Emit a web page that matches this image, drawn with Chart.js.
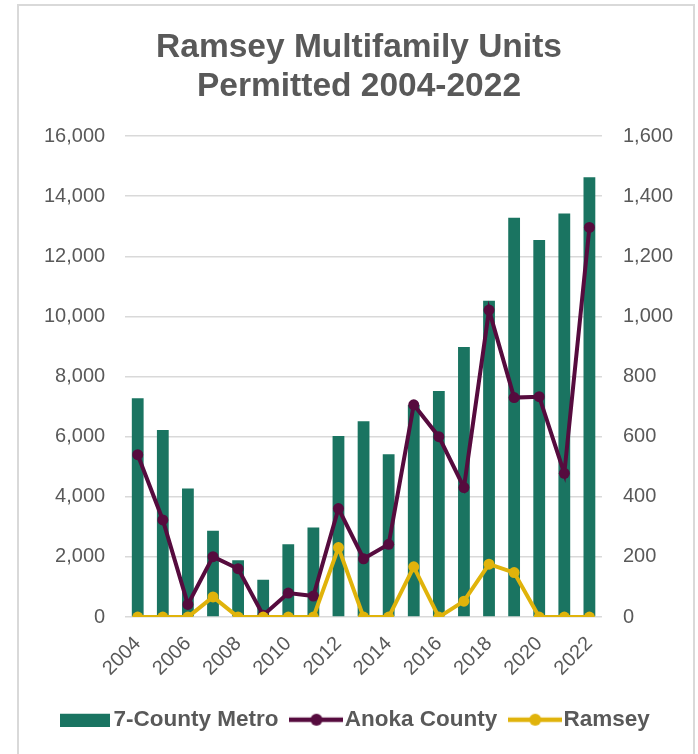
<!DOCTYPE html>
<html>
<head>
<meta charset="utf-8">
<script src="https://cdn.jsdelivr.net/npm/chart.js@4"></script>
<style>
  html, body { margin: 0; padding: 0; background: #fff; }
  #wrap { position: relative; width: 698px; height: 754px; overflow: hidden; }
  #frame { position: absolute; left: 17px; top: 4px; width: 674px; height: 800px; border: 2px solid #d9d9d9; }
  canvas { position: absolute; left: 0; top: 0; }
</style>
</head>
<body>
<div id="wrap">
  <div id="frame"></div>
  <canvas id="permitChart" width="698" height="754"></canvas>
</div>
<script>
const years = ['2004', '2005', '2006', '2007', '2008', '2009', '2010', '2011', '2012', '2013',
  '2014', '2015', '2016', '2017', '2018', '2019', '2020', '2021', '2022'];
const metroUnits = [7280, 6220, 4280, 2870, 1890, 1240, 2420, 2980, 6020, 6510,
  5420, 7050, 7520, 8980, 10520, 13280, 12540, 13420, 14630];
const anokaUnits = [540, 323, 42, 201, 161, 6, 80, 70, 361, 194,
  242, 706, 600, 431, 1021, 730, 733, 478, 1296];
const ramseyUnits = [0, 0, 0, 67, 0, 0, 0, 0, 231, 0,
  0, 167, 0, 53, 176, 148, 0, 0, 0];

const green = '#1a7461';
const purple = '#560b3e';
const gold = '#e0b30b';
const grey = '#595959';
const fontFamily = 'Liberation Sans, Arial, sans-serif';

function swatch(color, isLine) {
  const c = document.createElement('canvas');
  c.width = isLine ? 54 : 50;
  c.height = 14;
  const g = c.getContext('2d');
  if (isLine) {
    g.strokeStyle = color;
    g.lineWidth = 4.5;
    g.beginPath();
    g.moveTo(0, 7);
    g.lineTo(54, 7);
    g.stroke();
    g.fillStyle = color;
    g.beginPath();
    g.arc(27, 7, 6, 0, Math.PI * 2);
    g.fill();
  } else {
    g.fillStyle = color;
    g.fillRect(0, 1, 50, 13);
  }
  return c;
}

document.addEventListener('DOMContentLoaded', () => {
  const canvas = document.getElementById('permitChart');
  const icons = [swatch(green, false), swatch(purple, true), swatch(gold, true)];

  new Chart(canvas, {
    data: {
      labels: years,
      datasets: [{
        type: 'bar',
        label: '7-County Metro',
        data: metroUnits,
        backgroundColor: green,
        yAxisID: 'y',
        barPercentage: 0.47,
        categoryPercentage: 1,
        order: 3
      }, {
        type: 'line',
        label: 'Anoka County',
        data: anokaUnits,
        borderColor: purple,
        backgroundColor: purple,
        borderWidth: 4,
        pointRadius: 5.5,
        pointBorderWidth: 0,
        tension: 0,
        yAxisID: 'y1',
        order: 2
      }, {
        type: 'line',
        label: 'Ramsey',
        data: ramseyUnits,
        borderColor: gold,
        backgroundColor: gold,
        borderWidth: 4,
        pointRadius: 5.5,
        pointBorderWidth: 0,
        tension: 0,
        yAxisID: 'y1',
        order: 1
      }]
    },
    options: {
      responsive: false,
      animation: false,
      layout: { padding: { left: 24, right: 4, top: 20, bottom: 13 } },
      plugins: {
        title: {
          display: true,
          text: ['Ramsey Multifamily Units', 'Permitted 2004-2022'],
          color: grey,
          font: { family: fontFamily, size: 33.5, weight: 'bold', lineHeight: 1.165 },
          padding: { top: 8, bottom: 30 }
        },
        legend: {
          position: 'bottom',
          labels: {
            color: grey,
            font: { family: fontFamily, size: 22.5, weight: 'bold' },
            usePointStyle: true,
            pointStyleWidth: 34,
            boxHeight: 14,
            padding: 21,
            generateLabels: (chart) => chart.data.datasets.map((ds, i) => ({
              text: ds.label,
              pointStyle: icons[i],
              fontColor: grey,
              lineWidth: 0,
              strokeStyle: 'transparent',
              fillStyle: 'transparent',
              datasetIndex: i,
              hidden: false
            }))
          }
        },
        tooltip: { enabled: false }
      },
      scales: {
        x: {
          grid: { display: false },
          border: { display: false },
          ticks: {
            autoSkip: false,
            minRotation: 45,
            maxRotation: 45,
            padding: 7,
            color: grey,
            font: { family: fontFamily, size: 20 },
            callback: (val, i) => (i % 2 === 0 ? years[i] : null)
          }
        },
        y: {
          position: 'left',
          min: 0,
          max: 16000,
          ticks: {
            stepSize: 2000,
            padding: 20,
            color: grey,
            font: { family: fontFamily, size: 20 },
            callback: (v) => v.toLocaleString('en-US')
          },
          grid: { color: '#d9d9d9', lineWidth: 1.5, drawTicks: false },
          border: { display: false }
        },
        y1: {
          position: 'right',
          min: 0,
          max: 1600,
          ticks: {
            stepSize: 200,
            padding: 21,
            color: grey,
            font: { family: fontFamily, size: 20 },
            callback: (v) => v.toLocaleString('en-US')
          },
          grid: { display: false, drawTicks: false },
          border: { display: false }
        }
      }
    }
  });
});
</script>
</body>
</html>
